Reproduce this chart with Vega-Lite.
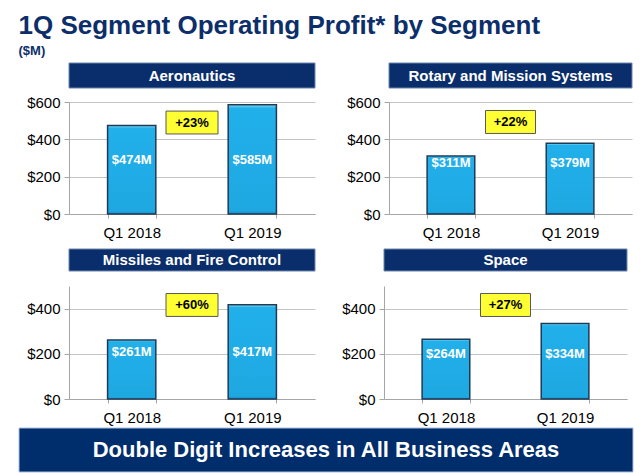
{
  "$schema": "https://vega.github.io/schema/vega-lite/v6.json",
  "background": "white",
  "padding": {"top": 12, "left": 18, "right": 0, "bottom": 0},
  "title": {
    "text": "1Q Segment Operating Profit* by Segment",
    "subtitle": "($M)",
    "anchor": "start",
    "font": "Liberation Sans",
    "fontSize": 26,
    "fontWeight": "bold",
    "color": "#0c2f6b",
    "subtitleFont": "Liberation Sans",
    "subtitleFontSize": 13,
    "subtitleFontWeight": "bold",
    "subtitleColor": "#0c2f6b",
    "subtitlePadding": 6,
    "offset": 5
  },
  "datasets": {
    "bars": [
      {"segment": "Aeronautics", "period": "Q1 2018", "value": 474, "label": "$474M"},
      {"segment": "Aeronautics", "period": "Q1 2019", "value": 585, "label": "$585M"},
      {"segment": "Rotary and Mission Systems", "period": "Q1 2018", "value": 311, "label": "$311M"},
      {"segment": "Rotary and Mission Systems", "period": "Q1 2019", "value": 379, "label": "$379M"},
      {"segment": "Missiles and Fire Control", "period": "Q1 2018", "value": 261, "label": "$261M"},
      {"segment": "Missiles and Fire Control", "period": "Q1 2019", "value": 417, "label": "$417M"},
      {"segment": "Space", "period": "Q1 2018", "value": 264, "label": "$264M"},
      {"segment": "Space", "period": "Q1 2019", "value": 334, "label": "$334M"}
    ],
    "callouts": [
      {"segment": "Aeronautics", "change": "+23%"},
      {"segment": "Rotary and Mission Systems", "change": "+22%"},
      {"segment": "Missiles and Fire Control", "change": "+60%"},
      {"segment": "Space", "change": "+27%"}
    ],
    "banner": [
      {"text": "Double Digit Increases in All Business Areas"}
    ]
  },
  "config": {
    "view": {"stroke": null},
    "font": "Liberation Sans",
    "axisY": {
      "format": "$,.0f",
      "labelFontSize": 15,
      "labelColor": "#000000",
      "labelFont": "Liberation Sans",
      "labelOverlap": false,
      "domainColor": "#a6a6a6",
      "gridColor": "#c4c4c4",
      "tickColor": "#a6a6a6",
      "tickSize": 5,
      "labelPadding": 4,
      "minExtent": 49,
      "title": null
    },
    "axisX": {
      "labelFontSize": 15,
      "labelColor": "#000000",
      "labelFont": "Liberation Sans",
      "labelAngle": 0,
      "domainColor": "#a6a6a6",
      "tickColor": "#a6a6a6",
      "tickSize": 4,
      "tickBand": "extent",
      "labelPadding": 7,
      "title": null
    }
  },
  "spacing": 2,
  "vconcat": [
    {
      "spacing": 0,
      "hconcat": [
        {
          "width": 1, "height": 10,
          "data": {"values": [{}]},
          "mark": {"type": "rect", "opacity": 0},
          "encoding": {}
        },
        {
          "spacing": 8,
          "vconcat": [
            {
              "spacing": 24,
              "hconcat": [
                {
                  "spacing": 6,
                  "vconcat": [
                    {
                      "width": 246, "height": 25,
                      "data": {"values": [{"name": "Aeronautics"}]},
                      "layer": [
                        {"mark": {"type": "rect", "color": "#0a2e6b", "stroke": "#6d86ad", "strokeWidth": 1}, "encoding": {}},
                        {"mark": {"type": "text", "color": "white", "fontWeight": "bold", "fontSize": 15, "font": "Liberation Sans"}, "encoding": {"text": {"field": "name"}}}
                      ]
                    },
                    {
                      "width": 246, "height": 112,
                      "layer": [
                        {
                          "data": {"name": "bars"},
                          "transform": [{"filter": "datum.segment === 'Aeronautics'"}],
                          "mark": {"type": "bar", "stroke": "#1f3a55", "strokeWidth": 1.5, "fill": {"gradient": "linear", "x1": 0, "y1": 0, "x2": 0, "y2": 1, "stops": [{"offset": 0, "color": "#8ee0fa"}, {"offset": 0.03, "color": "#22b0ea"}, {"offset": 0.97, "color": "#1ea8e2"}, {"offset": 1, "color": "#168ac0"}]}},
                          "encoding": {
                            "x": {"field": "period", "type": "nominal", "scale": {"paddingInner": 0.6, "paddingOuter": 0.32}},
                            "y": {"field": "value", "type": "quantitative", "scale": {"domain": [0, 600]}, "axis": {"values": [0, 200, 400, 600], "tickCount": 4}}
                          }
                        },
                        {
                          "data": {"name": "bars"},
                          "transform": [{"filter": "datum.segment === 'Aeronautics'"}],
                          "mark": {"type": "text", "color": "white", "fontWeight": "bold", "fontSize": 13, "baseline": "middle"},
                          "encoding": {
                            "x": {"field": "period", "type": "nominal"},
                            "y": {"datum": 287, "axis": {"values": [0, 200, 400, 600], "tickCount": 4}},
                            "text": {"field": "label"}
                          }
                        },
                        {
                          "data": {"name": "callouts"},
                          "transform": [{"filter": "datum.segment === 'Aeronautics'"}],
                          "mark": {"type": "point", "shape": "M-1,-0.44H1V0.44H-1Z", "size": 2704, "filled": true, "fill": "#ffff33", "stroke": "#595959", "strokeWidth": 1, "opacity": 1},
                          "encoding": {"y": {"datum": 490, "axis": {"values": [0, 200, 400, 600], "tickCount": 4}}}
                        },
                        {
                          "data": {"name": "callouts"},
                          "transform": [{"filter": "datum.segment === 'Aeronautics'"}],
                          "mark": {"type": "text", "color": "#000000", "fontWeight": "bold", "fontSize": 13, "baseline": "middle"},
                          "encoding": {"y": {"datum": 490, "axis": {"values": [0, 200, 400, 600], "tickCount": 4}}, "text": {"field": "change"}}
                        }
                      ]
                    }
                  ]
                },
                {
                  "spacing": 6,
                  "vconcat": [
                    {
                      "width": 243, "height": 25,
                      "data": {"values": [{"name": "Rotary and Mission Systems"}]},
                      "layer": [
                        {"mark": {"type": "rect", "color": "#0a2e6b", "stroke": "#6d86ad", "strokeWidth": 1}, "encoding": {}},
                        {"mark": {"type": "text", "color": "white", "fontWeight": "bold", "fontSize": 15, "font": "Liberation Sans"}, "encoding": {"text": {"field": "name"}}}
                      ]
                    },
                    {
                      "width": 243, "height": 112,
                      "layer": [
                        {
                          "data": {"name": "bars"},
                          "transform": [{"filter": "datum.segment === 'Rotary and Mission Systems'"}],
                          "mark": {"type": "bar", "stroke": "#1f3a55", "strokeWidth": 1.5, "fill": {"gradient": "linear", "x1": 0, "y1": 0, "x2": 0, "y2": 1, "stops": [{"offset": 0, "color": "#8ee0fa"}, {"offset": 0.03, "color": "#22b0ea"}, {"offset": 0.97, "color": "#1ea8e2"}, {"offset": 1, "color": "#168ac0"}]}},
                          "encoding": {
                            "x": {"field": "period", "type": "nominal", "scale": {"paddingInner": 0.6, "paddingOuter": 0.32}},
                            "y": {"field": "value", "type": "quantitative", "scale": {"domain": [0, 600]}, "axis": {"values": [0, 200, 400, 600], "tickCount": 4}}
                          }
                        },
                        {
                          "data": {"name": "bars"},
                          "transform": [{"filter": "datum.segment === 'Rotary and Mission Systems'"}],
                          "mark": {"type": "text", "color": "white", "fontWeight": "bold", "fontSize": 13, "baseline": "middle"},
                          "encoding": {
                            "x": {"field": "period", "type": "nominal"},
                            "y": {"datum": 273, "axis": {"values": [0, 200, 400, 600], "tickCount": 4}},
                            "text": {"field": "label"}
                          }
                        },
                        {
                          "data": {"name": "callouts"},
                          "transform": [{"filter": "datum.segment === 'Rotary and Mission Systems'"}],
                          "mark": {"type": "point", "shape": "M-1,-0.46H1V0.46H-1Z", "size": 2500, "filled": true, "fill": "#ffff33", "stroke": "#595959", "strokeWidth": 1, "opacity": 1},
                          "encoding": {"y": {"datum": 493, "axis": {"values": [0, 200, 400, 600], "tickCount": 4}}}
                        },
                        {
                          "data": {"name": "callouts"},
                          "transform": [{"filter": "datum.segment === 'Rotary and Mission Systems'"}],
                          "mark": {"type": "text", "color": "#000000", "fontWeight": "bold", "fontSize": 13, "baseline": "middle"},
                          "encoding": {"y": {"datum": 493, "axis": {"values": [0, 200, 400, 600], "tickCount": 4}}, "text": {"field": "change"}}
                        }
                      ]
                    }
                  ]
                }
              ]
            },
            {
              "spacing": 19,
              "hconcat": [
                {
                  "spacing": 14,
                  "vconcat": [
                    {
                      "width": 246, "height": 22,
                      "data": {"values": [{"name": "Missiles and Fire Control"}]},
                      "layer": [
                        {"mark": {"type": "rect", "color": "#0a2e6b", "stroke": "#6d86ad", "strokeWidth": 1}, "encoding": {}},
                        {"mark": {"type": "text", "color": "white", "fontWeight": "bold", "fontSize": 15, "font": "Liberation Sans"}, "encoding": {"text": {"field": "name"}}}
                      ]
                    },
                    {
                      "width": 246, "height": 113,
                      "layer": [
                        {
                          "data": {"name": "bars"},
                          "transform": [{"filter": "datum.segment === 'Missiles and Fire Control'"}],
                          "mark": {"type": "bar", "stroke": "#1f3a55", "strokeWidth": 1.5, "fill": {"gradient": "linear", "x1": 0, "y1": 0, "x2": 0, "y2": 1, "stops": [{"offset": 0, "color": "#8ee0fa"}, {"offset": 0.03, "color": "#22b0ea"}, {"offset": 0.97, "color": "#1ea8e2"}, {"offset": 1, "color": "#168ac0"}]}},
                          "encoding": {
                            "x": {"field": "period", "type": "nominal", "scale": {"paddingInner": 0.6, "paddingOuter": 0.32}},
                            "y": {"field": "value", "type": "quantitative", "scale": {"domain": [0, 500]}, "axis": {"values": [0, 200, 400], "tickCount": 3}}
                          }
                        },
                        {
                          "data": {"name": "bars"},
                          "transform": [{"filter": "datum.segment === 'Missiles and Fire Control'"}],
                          "mark": {"type": "text", "color": "white", "fontWeight": "bold", "fontSize": 13, "baseline": "middle"},
                          "encoding": {
                            "x": {"field": "period", "type": "nominal"},
                            "y": {"datum": 207, "axis": {"values": [0, 200, 400], "tickCount": 3}},
                            "text": {"field": "label"}
                          }
                        },
                        {
                          "data": {"name": "callouts"},
                          "transform": [{"filter": "datum.segment === 'Missiles and Fire Control'"}],
                          "mark": {"type": "point", "shape": "M-1,-0.44H1V0.44H-1Z", "size": 2704, "filled": true, "fill": "#ffff33", "stroke": "#595959", "strokeWidth": 1, "opacity": 1},
                          "encoding": {"y": {"datum": 416, "axis": {"values": [0, 200, 400], "tickCount": 3}}}
                        },
                        {
                          "data": {"name": "callouts"},
                          "transform": [{"filter": "datum.segment === 'Missiles and Fire Control'"}],
                          "mark": {"type": "text", "color": "#000000", "fontWeight": "bold", "fontSize": 13, "baseline": "middle"},
                          "encoding": {"y": {"datum": 416, "axis": {"values": [0, 200, 400], "tickCount": 3}}, "text": {"field": "change"}}
                        }
                      ]
                    }
                  ]
                },
                {
                  "spacing": 14,
                  "vconcat": [
                    {
                      "width": 243, "height": 22,
                      "data": {"values": [{"name": "Space"}]},
                      "layer": [
                        {"mark": {"type": "rect", "color": "#0a2e6b", "stroke": "#6d86ad", "strokeWidth": 1}, "encoding": {}},
                        {"mark": {"type": "text", "color": "white", "fontWeight": "bold", "fontSize": 15, "font": "Liberation Sans"}, "encoding": {"text": {"field": "name"}}}
                      ]
                    },
                    {
                      "width": 243, "height": 113,
                      "layer": [
                        {
                          "data": {"name": "bars"},
                          "transform": [{"filter": "datum.segment === 'Space'"}],
                          "mark": {"type": "bar", "stroke": "#1f3a55", "strokeWidth": 1.5, "fill": {"gradient": "linear", "x1": 0, "y1": 0, "x2": 0, "y2": 1, "stops": [{"offset": 0, "color": "#8ee0fa"}, {"offset": 0.03, "color": "#22b0ea"}, {"offset": 0.97, "color": "#1ea8e2"}, {"offset": 1, "color": "#168ac0"}]}},
                          "encoding": {
                            "x": {"field": "period", "type": "nominal", "scale": {"paddingInner": 0.6, "paddingOuter": 0.32}},
                            "y": {"field": "value", "type": "quantitative", "scale": {"domain": [0, 500]}, "axis": {"values": [0, 200, 400], "tickCount": 3}}
                          }
                        },
                        {
                          "data": {"name": "bars"},
                          "transform": [{"filter": "datum.segment === 'Space'"}],
                          "mark": {"type": "text", "color": "white", "fontWeight": "bold", "fontSize": 13, "baseline": "middle"},
                          "encoding": {
                            "x": {"field": "period", "type": "nominal"},
                            "y": {"datum": 199, "axis": {"values": [0, 200, 400], "tickCount": 3}},
                            "text": {"field": "label"}
                          }
                        },
                        {
                          "data": {"name": "callouts"},
                          "transform": [{"filter": "datum.segment === 'Space'"}],
                          "mark": {"type": "point", "shape": "M-1,-0.46H1V0.46H-1Z", "size": 2500, "filled": true, "fill": "#ffff33", "stroke": "#595959", "strokeWidth": 1, "opacity": 1},
                          "encoding": {"y": {"datum": 416, "axis": {"values": [0, 200, 400], "tickCount": 3}}}
                        },
                        {
                          "data": {"name": "callouts"},
                          "transform": [{"filter": "datum.segment === 'Space'"}],
                          "mark": {"type": "text", "color": "#000000", "fontWeight": "bold", "fontSize": 13, "baseline": "middle"},
                          "encoding": {"y": {"datum": 416, "axis": {"values": [0, 200, 400], "tickCount": 3}}, "text": {"field": "change"}}
                        }
                      ]
                    }
                  ]
                }
              ]
            }
          ]
        }
      ]
    },
    {
      "width": 614, "height": 44,
      "data": {"name": "banner"},
      "layer": [
        {"mark": {"type": "rect", "color": "#002d6b", "stroke": "#a9c1e0", "strokeWidth": 1}, "encoding": {}},
        {"mark": {"type": "text", "color": "white", "fontWeight": "bold", "fontSize": 22, "font": "Liberation Sans Narrow, Liberation Sans"}, "encoding": {"text": {"field": "text"}}}
      ]
    }
  ]
}
